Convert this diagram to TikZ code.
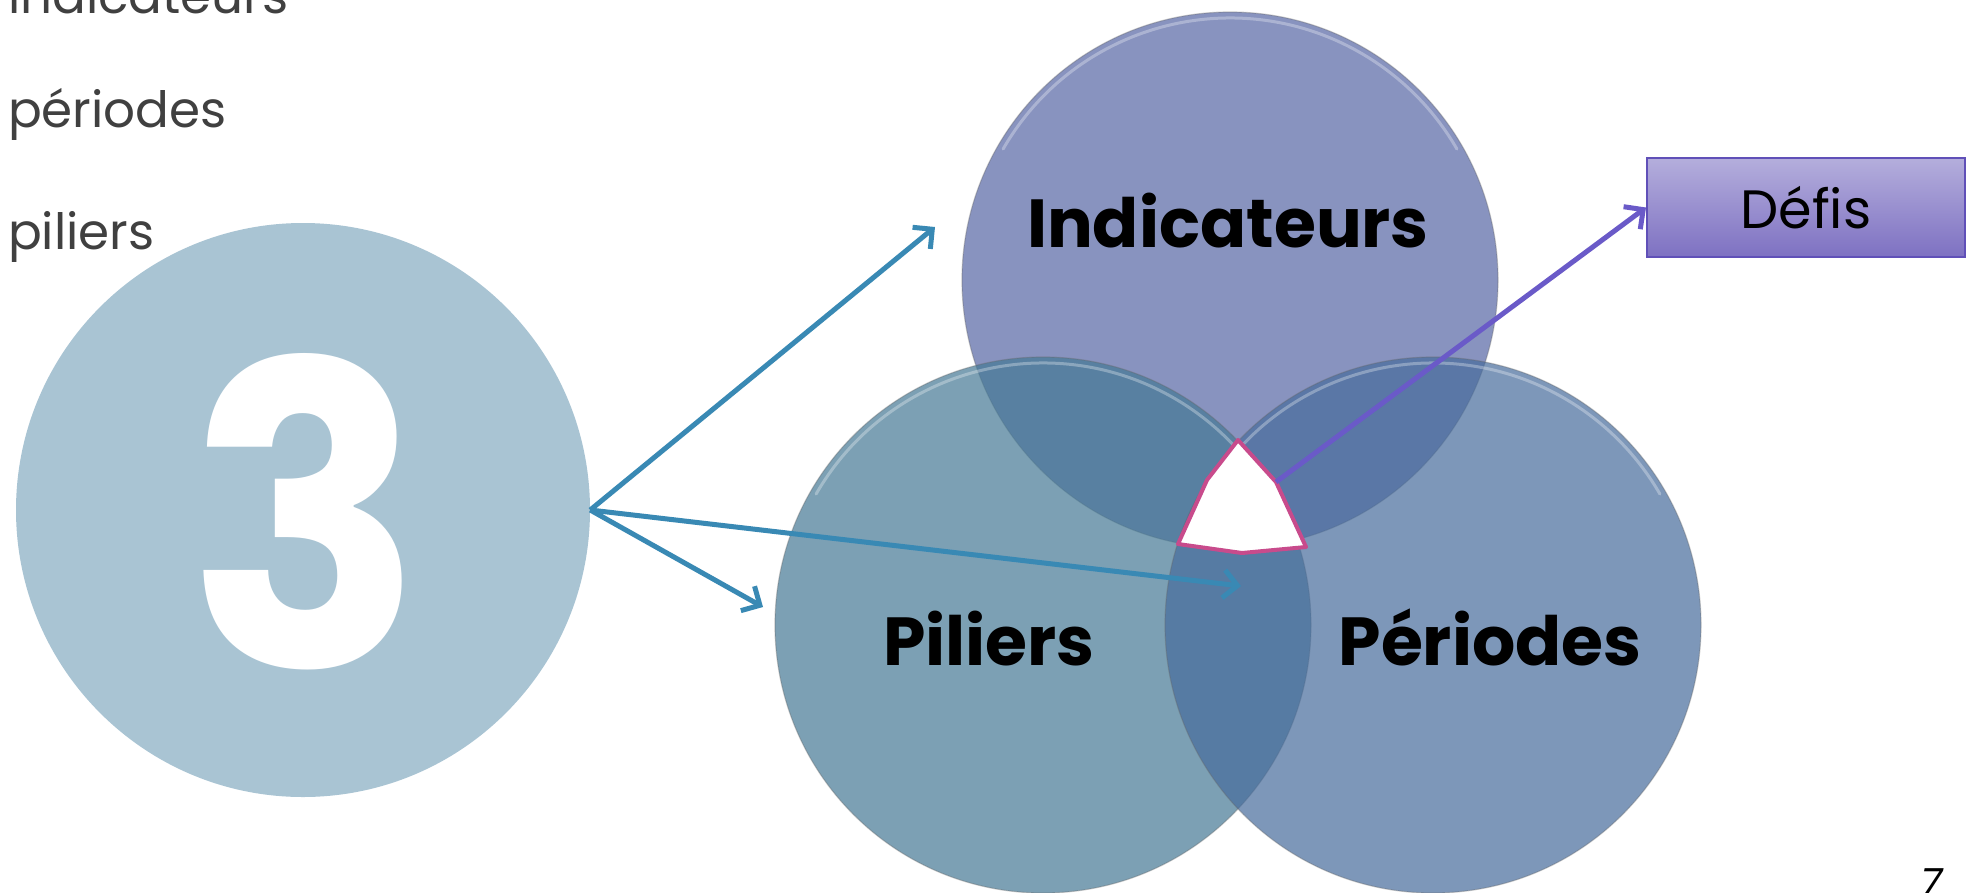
\documentclass[tikz,border=0pt]{standalone}
\usepackage{fontspec}
\usepackage{graphicx}
\setmainfont{Poppins}
\newfontfamily\slantpop{Poppins}[FakeSlant=0.22]
\usetikzlibrary{arrows.meta}
\definecolor{bigc}{RGB}{169,196,211}
\definecolor{topc}{RGB}{86,102,165}
\definecolor{leftc}{RGB}{69,121,149}
\definecolor{rightc}{RGB}{71,108,156}
\definecolor{arrowblue}{RGB}{57,137,180}
\definecolor{arrowpurple}{RGB}{106,90,200}
\definecolor{pinkc}{RGB}{200,75,140}
\definecolor{defistop}{RGB}{180,174,220}
\definecolor{defisbot}{RGB}{126,113,194}
\definecolor{defisborder}{RGB}{96,80,184}
\definecolor{graytext}{RGB}{64,64,64}
\begin{document}
\begin{tikzpicture}[x=1pt,y=-1pt,
  venn/.style={circle, minimum size=536pt, inner sep=0pt, fill opacity=0.7,
    draw=black!60, draw opacity=0.35, line width=1.2pt},
  rim/.style={draw=white, draw opacity=0.3, line width=3pt, line cap=round},
  listtext/.style={anchor=base west, inner sep=0pt, text=graytext,
    font=\fontsize{50}{56}\selectfont},
  biglabel/.style={anchor=base, inner sep=0pt, text=black,
    font=\fontsize{68}{76}\selectfont\bfseries},
  bluearrow/.style={draw=arrowblue, line width=5pt,
    -{Straight Barb[length=14pt,width=28pt,line width=5pt]}},
  purplearrow/.style={draw=arrowpurple, line width=5pt,
    -{Straight Barb[length=14pt,width=28pt,line width=5pt]}}]
\useasboundingbox (0,0) rectangle (1976,892);
\clip (0,0) rectangle (1976,892);
\fill[white] (0,0) rectangle (1976,892);

% list at top left
\node[listtext] (l1) at (8,13) {indicateurs};
\node[listtext] (l2) at (8,127) {périodes};
\node[listtext] (l3) at (8,249) {piliers};

% big circle with 3
\node[circle, fill=bigc, minimum size=574pt, inner sep=0pt] (three) at (303,510) {};
\node[anchor=base, inner sep=0pt, text=white] (digit) at (306,667)
  {\resizebox{236pt}{314pt}{\bfseries 3}};

% Venn circles (y axis points down: angles 180..360 are the upper half)
\node[venn, fill=topc] (ind) at (1230,280) {};
\draw[rim] (ind.center) ++(210:262) arc[start angle=210, end angle=330, radius=262];
\node[venn, fill=leftc] (pil) at (1043,625) {};
\draw[rim] (pil.center) ++(210:262) arc[start angle=210, end angle=330, radius=262];
\node[venn, fill=rightc] (per) at (1433,625) {};
\draw[rim] (per.center) ++(210:262) arc[start angle=210, end angle=330, radius=262];

% centre white region
\coordinate (w1) at (1238,440);
\coordinate (w2) at (1276,482);
\coordinate (w3) at (1306,547);
\coordinate (w4) at (1242,553);
\coordinate (w5) at (1178,544);
\coordinate (w6) at (1207,480);
\filldraw[fill=white, draw=pinkc, line width=4pt, line join=round]
  (w1) -- (w2) -- (w3) -- (w4) -- (w5) -- (w6) -- cycle;

% labels
\node[biglabel] (tind) at (1228,247) {Indicateurs};
\node[biglabel] (tpil) at (989,665) {Piliers};
\node[biglabel] (tper) at (1490,665) {Périodes};

% Defis box
\node[draw=defisborder, line width=2pt, top color=defistop, bottom color=defisbot,
  minimum width=318pt, minimum height=99pt, inner sep=0pt,
  font=\fontsize{54}{60}\selectfont] (defis) at (1806,207.5) {Défis};

% arrows
\coordinate (a1) at (935,227);
\coordinate (a2) at (763,607);
\coordinate (a3) at (1241,586);
\draw[bluearrow] (three.east) -- (a1);
\draw[bluearrow] (three.east) -- (a2);
\draw[bluearrow] (three.east) -- (a3);
\draw[purplearrow] (w2) -- (defis.west);

% page number
\node[anchor=base, inner sep=0pt, font=\fontsize{40}{44}\slantpop] (pg) at (1928,897) {7};
\end{tikzpicture}
\end{document}
